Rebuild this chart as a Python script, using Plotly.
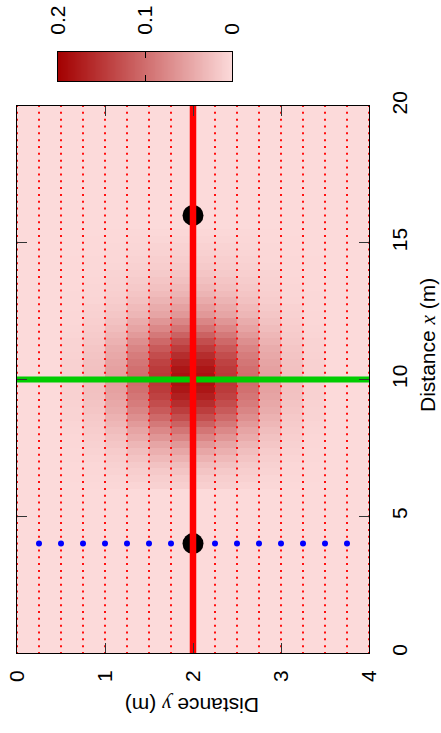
import numpy as np
import plotly.graph_objects as go

# ---- data -------------------------------------------------------------
# mesh nodes (m): horizontal = distance y, vertical = distance x
grid_y = [0, 0.25, 0.5, 0.75, 1, 1.25, 1.5, 1.75, 2, 2.25, 2.5, 2.75, 3, 3.25, 3.5, 3.75, 4]
grid_x = [i * 0.25 for i in range(81)]

# heat values (cells between nodes); rows for x = 6.0 ... 15.5 (0.25 m rows),
# columns for y = 0 ... 4 (0.25 m columns). All other cells are 0.
heat_first_row = 24
heat_block = [
    [0, 0, 0.000, 0.001, 0.003, 0.005, 0.008, 0.010, 0.010, 0.008, 0.005, 0.003, 0.001, 0.000, 0, 0],
    [0, 0, 0.001, 0.002, 0.004, 0.008, 0.011, 0.014, 0.014, 0.011, 0.008, 0.004, 0.002, 0.001, 0, 0],
    [0, 0, 0.001, 0.003, 0.006, 0.011, 0.016, 0.020, 0.020, 0.016, 0.011, 0.006, 0.003, 0.001, 0, 0],
    [0, 0, 0.001, 0.003, 0.008, 0.015, 0.022, 0.027, 0.027, 0.022, 0.015, 0.008, 0.003, 0.001, 0, 0],
    [0, 0, 0.002, 0.005, 0.011, 0.020, 0.030, 0.037, 0.037, 0.030, 0.020, 0.011, 0.005, 0.002, 0, 0],
    [0, 0, 0.002, 0.006, 0.014, 0.026, 0.039, 0.048, 0.048, 0.039, 0.026, 0.014, 0.006, 0.002, 0, 0],
    [0, 0, 0.003, 0.008, 0.018, 0.033, 0.049, 0.061, 0.061, 0.049, 0.033, 0.018, 0.008, 0.003, 0, 0],
    [0, 0, 0.003, 0.010, 0.022, 0.042, 0.062, 0.077, 0.077, 0.062, 0.042, 0.022, 0.010, 0.003, 0, 0],
    [0, 0, 0.004, 0.012, 0.027, 0.050, 0.075, 0.093, 0.093, 0.075, 0.050, 0.027, 0.012, 0.004, 0, 0],
    [0, 0, 0.005, 0.014, 0.032, 0.059, 0.089, 0.110, 0.110, 0.089, 0.059, 0.032, 0.014, 0.005, 0, 0],
    [0, 0, 0.006, 0.016, 0.037, 0.069, 0.104, 0.128, 0.128, 0.104, 0.069, 0.037, 0.016, 0.006, 0, 0],
    [0, 0, 0.006, 0.018, 0.042, 0.078, 0.117, 0.144, 0.144, 0.117, 0.078, 0.042, 0.018, 0.006, 0, 0],
    [0, 0, 0.007, 0.020, 0.046, 0.086, 0.129, 0.159, 0.159, 0.129, 0.086, 0.046, 0.020, 0.007, 0, 0],
    [0, 0, 0.008, 0.022, 0.050, 0.092, 0.139, 0.171, 0.171, 0.139, 0.092, 0.050, 0.022, 0.008, 0, 0],
    [0, 0, 0.008, 0.023, 0.052, 0.097, 0.146, 0.180, 0.180, 0.146, 0.097, 0.052, 0.023, 0.008, 0, 0],
    [0, 0, 0.008, 0.023, 0.053, 0.099, 0.149, 0.184, 0.184, 0.149, 0.099, 0.053, 0.023, 0.008, 0, 0],
    [0, 0, 0.008, 0.023, 0.053, 0.099, 0.149, 0.184, 0.184, 0.149, 0.099, 0.053, 0.023, 0.008, 0, 0],
    [0, 0, 0.008, 0.023, 0.052, 0.097, 0.146, 0.180, 0.180, 0.146, 0.097, 0.052, 0.023, 0.008, 0, 0],
    [0, 0, 0.008, 0.022, 0.050, 0.092, 0.139, 0.171, 0.171, 0.139, 0.092, 0.050, 0.022, 0.008, 0, 0],
    [0, 0, 0.007, 0.020, 0.046, 0.086, 0.129, 0.159, 0.159, 0.129, 0.086, 0.046, 0.020, 0.007, 0, 0],
    [0, 0, 0.006, 0.018, 0.042, 0.078, 0.117, 0.144, 0.144, 0.117, 0.078, 0.042, 0.018, 0.006, 0, 0],
    [0, 0, 0.006, 0.016, 0.037, 0.069, 0.104, 0.128, 0.128, 0.104, 0.069, 0.037, 0.016, 0.006, 0, 0],
    [0, 0, 0.005, 0.014, 0.032, 0.059, 0.089, 0.110, 0.110, 0.089, 0.059, 0.032, 0.014, 0.005, 0, 0],
    [0, 0, 0.004, 0.012, 0.027, 0.050, 0.075, 0.093, 0.093, 0.075, 0.050, 0.027, 0.012, 0.004, 0, 0],
    [0, 0, 0.003, 0.010, 0.022, 0.042, 0.062, 0.077, 0.077, 0.062, 0.042, 0.022, 0.010, 0.003, 0, 0],
    [0, 0, 0.003, 0.008, 0.018, 0.033, 0.049, 0.061, 0.061, 0.049, 0.033, 0.018, 0.008, 0.003, 0, 0],
    [0, 0, 0.002, 0.007, 0.015, 0.028, 0.042, 0.052, 0.052, 0.042, 0.028, 0.015, 0.007, 0.002, 0, 0],
    [0, 0, 0.002, 0.005, 0.012, 0.023, 0.035, 0.043, 0.043, 0.035, 0.023, 0.012, 0.005, 0.002, 0, 0],
    [0, 0, 0.002, 0.004, 0.010, 0.019, 0.028, 0.035, 0.035, 0.028, 0.019, 0.010, 0.004, 0.002, 0, 0],
    [0, 0, 0.001, 0.004, 0.008, 0.016, 0.023, 0.029, 0.029, 0.023, 0.016, 0.008, 0.004, 0.001, 0, 0],
    [0, 0, 0.001, 0.003, 0.007, 0.013, 0.019, 0.024, 0.024, 0.019, 0.013, 0.007, 0.003, 0.001, 0, 0],
    [0, 0, 0.001, 0.002, 0.006, 0.010, 0.015, 0.019, 0.019, 0.015, 0.010, 0.006, 0.002, 0.001, 0, 0],
    [0, 0, 0.001, 0.002, 0.004, 0.008, 0.012, 0.015, 0.015, 0.012, 0.008, 0.004, 0.002, 0.001, 0, 0],
    [0, 0, 0.001, 0.002, 0.003, 0.006, 0.010, 0.012, 0.012, 0.010, 0.006, 0.003, 0.002, 0.001, 0, 0],
    [0, 0, 0.000, 0.001, 0.003, 0.005, 0.007, 0.009, 0.009, 0.007, 0.005, 0.003, 0.001, 0.000, 0, 0],
    [0, 0, 0.000, 0.001, 0.002, 0.004, 0.006, 0.007, 0.007, 0.006, 0.004, 0.002, 0.001, 0.000, 0, 0],
    [0, 0, 0.000, 0.001, 0.001, 0.003, 0.004, 0.005, 0.005, 0.004, 0.003, 0.001, 0.001, 0.000, 0, 0],
    [0, 0, 0.000, 0.000, 0.001, 0.002, 0.002, 0.003, 0.003, 0.002, 0.002, 0.001, 0.000, 0.000, 0, 0],
]

path_y = 2.0          # red line (along x)
cross_x = 10.0        # green line (along y)
sensor_x = [4, 16]
sensor_y = [2, 2]
probe_x = [4, 4, 4, 4, 4, 4, 4, 4, 4, 4, 4, 4, 4, 4]
probe_y = [0.25, 0.5, 0.75, 1.0, 1.25, 1.5, 1.75, 2.25, 2.5, 2.75, 3.0, 3.25, 3.5, 3.75]

cbar_min, cbar_max = 0.0, 0.2
cbar_tick_vals = [0.2, 0.1, 0]
cbar_tick_text = ["0.2", "0.1", "0"]
x_tick_vals = [0, 5, 10, 15, 20]
y_tick_vals = [0, 1, 2, 3, 4]

# ---- build --------------------------------------------------------------
z = np.zeros((len(grid_x) - 1, len(grid_y) - 1))
z[heat_first_row:heat_first_row + len(heat_block)] = np.array(heat_block)

FONT = "Liberation Sans, Arial, Helvetica, sans-serif"
LIGHT = "#fcdada"
DARK = "#a30000"
CSCALE = [[0, LIGHT], [1, DARK]]

W, H = 441, 733
ML, MR, MT, MB = 17, 72, 0, 80
PW, PH = W - ML - MR, H - MT - MB     # 352 x 653


def px_x(p):  # pixel column -> paper x
    return (p - ML) / PW


def px_y(p):  # pixel row -> paper y
    return (H - MB - p) / PH


mesh_y, mesh_x = np.meshgrid(grid_y, grid_x)

fig = go.Figure()
fig.add_trace(go.Heatmap(
    x=grid_y, y=grid_x, z=z, zmin=cbar_min, zmax=cbar_max,
    colorscale=CSCALE, showscale=False, hoverinfo="skip",
))
fig.add_trace(go.Scatter(
    x=mesh_y.ravel(), y=mesh_x.ravel(), mode="markers",
    marker=dict(symbol="square", size=2, color="#ff1010", line_width=0),
    hoverinfo="skip", showlegend=False,
))
fig.add_trace(go.Scatter(
    x=[grid_y[0], grid_y[-1]], y=[cross_x, cross_x], mode="lines",
    line=dict(color="#00cc00", width=6), showlegend=False,
))
fig.add_trace(go.Scatter(
    x=probe_y, y=probe_x, mode="markers",
    marker=dict(size=6, color="#0000ff", line_width=0), showlegend=False,
))
fig.add_trace(go.Scatter(
    x=sensor_y, y=sensor_x, mode="markers",
    marker=dict(size=21, color="black", line_width=0), showlegend=False,
))
fig.add_trace(go.Scatter(
    x=[path_y, path_y], y=[grid_x[0], grid_x[-1]], mode="lines",
    line=dict(color="#ff0000", width=6.5), showlegend=False,
))

# colour bar drawn as its own small heatmap (reversed: 0.2 on the left)
cb_edges = np.linspace(cbar_min, cbar_max, 201)
cb_mid = (cb_edges[:-1] + cb_edges[1:]) / 2
fig.add_trace(go.Heatmap(
    x=cb_edges, y=[0, 1], z=[cb_mid], zmin=cbar_min, zmax=cbar_max,
    colorscale=CSCALE, showscale=False, hoverinfo="skip",
    xaxis="x2", yaxis="y2",
))

axis_common = dict(
    ticks="inside", ticklen=10, tickcolor="#333", tickwidth=1,
    mirror="ticks", showline=True, linecolor="black", linewidth=1,
    showgrid=False, zeroline=False, layer="above traces",
    tickangle=-90, tickfont=dict(family=FONT, size=21, color="black"),
)
fig.update_layout(
    width=W, height=H, autosize=False,
    margin=dict(l=ML, r=MR, t=MT, b=MB, autoexpand=False),
    paper_bgcolor="white", plot_bgcolor=LIGHT,
    showlegend=False,
    xaxis=dict(range=[0, 4], domain=[0, 1], tickvals=y_tick_vals,
               ticklabelstandoff=8, anchor="y", **axis_common),
    yaxis=dict(range=[0, 20], domain=[0, px_y(106)], tickvals=x_tick_vals,
               side="right", ticklabelstandoff=12, anchor="x", **axis_common),
    xaxis2=dict(range=[cbar_max, cbar_min], domain=[px_x(58), px_x(232)],
                anchor="y2", side="top", tickvals=cbar_tick_vals, ticktext=cbar_tick_text,
                ticks="inside", ticklen=6, tickcolor="black", mirror="ticks",
                showline=True, linecolor="black", linewidth=1, showgrid=False,
                zeroline=False, layer="above traces", tickangle=-90,
                ticklabelstandoff=12,
                tickfont=dict(family=FONT, size=21, color="black")),
    yaxis2=dict(range=[0, 1], domain=[px_y(81), px_y(52)], anchor="x2",
                showticklabels=False, ticks="", showline=True, mirror=True,
                linecolor="black", linewidth=1, showgrid=False, zeroline=False),
    annotations=[
        dict(text="Distance <span style=\"font-family:'Liberation Serif'\"><i>x</i></span> (m)",
             xref="paper", yref="paper", x=px_x(428), y=px_y(345),
             xanchor="center", yanchor="middle", textangle=-90, showarrow=False,
             font=dict(family=FONT, size=21, color="black")),
        dict(text="Distance <span style=\"font-family:'Liberation Serif'\"><i>y</i></span> (m)",
             xref="paper", yref="paper", x=px_x(192), y=px_y(705),
             xanchor="center", yanchor="middle", textangle=180, showarrow=False,
             font=dict(family=FONT, size=21, color="black")),
    ],
)

fig.write_html("out.html", config={"displayModeBar": False},
               post_script="document.body.style.margin='0px';")
